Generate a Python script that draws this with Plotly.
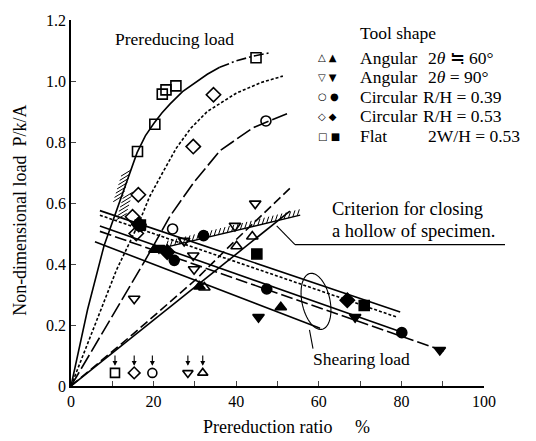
import numpy as np
import plotly.graph_objects as go

# ---------------- data ----------------
# Prereducing load (open markers)
a60_pre_x = [32.3, 40.1, 43.9]
a60_pre_y = [0.323, 0.458, 0.490]
a90_pre_x = [15.3, 27.4, 29.6, 29.8, 39.7, 44.6]
a90_pre_y = [0.286, 0.476, 0.428, 0.383, 0.525, 0.598]
c39_pre_x = [24.6, 47.2]
c39_pre_y = [0.515, 0.869]
c53_pre_x = [14.9, 15.8, 16.3, 29.6, 34.5]
c53_pre_y = [0.555, 0.500, 0.627, 0.785, 0.955]
flat_pre_x = [16.1, 20.3, 22.1, 23.0, 25.4, 44.8]
flat_pre_y = [0.769, 0.858, 0.957, 0.971, 0.984, 1.076]

# Shearing load (filled markers)
a60_sh_x = [20.2, 31.1, 50.8]
a60_sh_y = [0.447, 0.326, 0.258]
a90_sh_x = [21.3, 45.4, 68.8, 89.3]
a90_sh_y = [0.452, 0.226, 0.226, 0.118]
c39_sh_x = [16.9, 25.0, 32.1, 47.4, 80.1]
c39_sh_y = [0.525, 0.412, 0.493, 0.318, 0.175]
c53_sh_x = [16.4, 23.3, 66.9]
c53_sh_y = [0.530, 0.439, 0.281]
flat_sh_x = [16.8, 45.0, 71.0]
flat_sh_y = [0.528, 0.433, 0.264]

# Prereducing load curves
flat_curve_x = [0, 4, 8, 11, 14, 16, 18, 20, 22, 24, 27, 30, 33, 36]
flat_curve_y = [0, 0.25, 0.46, 0.575, 0.69, 0.765, 0.82, 0.86, 0.895, 0.925, 0.965, 0.995, 1.022, 1.045]
flat_tail_x = [36, 40, 44, 48.3]
flat_tail_y = [1.045, 1.066, 1.081, 1.093]
c53_curve_x = [0, 11, 16.3, 19, 22.2, 25.5, 29, 33, 40, 46, 51.3]
c53_curve_y = [0, 0.38, 0.53, 0.62, 0.70, 0.78, 0.845, 0.90, 0.96, 0.995, 1.016]
c39_curve_x = [0, 17.7, 24, 29.6, 36.1, 44.1, 52.9]
c39_curve_y = [0, 0.406, 0.557, 0.665, 0.772, 0.847, 0.896]
a90_curve_x = [0, 15, 30.3, 40, 53]
a90_curve_y = [0, 0.17, 0.35, 0.48, 0.648]
a60_curve_x = [0, 53]
a60_curve_y = [0, 0.573]

# Shearing load lines (start, end)
flat_shear_x = [7, 79.7]
flat_shear_y = [0.575, 0.243]
c53_shear_x = [7, 78.9]
c53_shear_y = [0.560, 0.226]
c39_shear_x = [7, 80]
c39_shear_y = [0.525, 0.177]
a90_shear_x = [7, 91]
a90_shear_y = [0.507, 0.111]
a60_shear_x = [5.8, 60.3]
a60_shear_y = [0.473, 0.189]

# Criterion for closing a hollow of specimen
crit1a_x = [12.7, 14.6]
crit1a_y = [0.625, 0.71]
crit1b_x = [11.0, 12.6]
crit1b_y = [0.545, 0.62]
crit2_x = [23.0, 55.5]
crit2_y = [0.455, 0.560]

# Closing points marked at the bottom
close_x = [10.65, 15.3, 19.7, 28.3, 31.9]
close_sym = ["square-open", "diamond-open", "circle-open", "triangle-down-open", "triangle-up-open"]
close_y = 0.043

x_ticks = [0, 10, 20, 30, 40, 50, 60, 70, 80, 90, 100]
x_ticktext = ["0", "", "20", "", "40", "", "60", "", "80", "", "100"]
y_ticks = [0, 0.2, 0.4, 0.6, 0.8, 1.0, 1.2]
y_ticktext = ["0", "0.2", "0.4", "0.6", "0.8", "1.0", "1.2"]

# ---------------- layout geometry ----------------
W, H = 536, 441
ML, MR, MT, MB = 71, 52, 14, 55
XR = (0, 100)
YR = (0, 1.2)
PW = W - ML - MR
PH = H - MT - MB
FONT = "Liberation Serif"
TS = 17.5


def d2p(x, y):
    return ML + (x - XR[0]) / (XR[1] - XR[0]) * PW, MT + (YR[1] - y) / (YR[1] - YR[0]) * PH


def p2d(px, py):
    return XR[0] + (px - ML) / PW * (XR[1] - XR[0]), YR[1] - (py - MT) / PH * (YR[1] - YR[0])


def pp(px, py):
    return (px - ML) / PW, (H - MB - py) / PH


def hatch(xs, ys, spacing, length, ang):
    pts = [d2p(x, y) for x, y in zip(xs, ys)]
    ox, oy = [], []
    a = np.deg2rad(ang)
    for (x0, y0), (x1, y1) in zip(pts[:-1], pts[1:]):
        seg = np.hypot(x1 - x0, y1 - y0)
        n = int(seg // spacing)
        for i in range(n + 1):
            t = i * spacing / seg
            px, py = x0 + t * (x1 - x0), y0 + t * (y1 - y0)
            ex, ey = px + length * np.cos(a), py - length * np.sin(a)
            dx0, dy0 = p2d(px, py)
            dx1, dy1 = p2d(ex, ey)
            ox += [dx0, dx1, None]
            oy += [dy0, dy1, None]
    return ox, oy


fig = go.Figure()

LW = 1.6


def line(x, y, dash, width=LW):
    fig.add_trace(go.Scatter(x=x, y=y, mode="lines", line=dict(color="black", width=width, dash=dash),
                             hoverinfo="skip", showlegend=False))


def pts(x, y, sym, size=10):
    fig.add_trace(go.Scatter(x=x, y=y, mode="markers",
                             marker=dict(symbol=sym, size=size, color="black",
                                         line=dict(color="black", width=1.6)),
                             showlegend=False, cliponaxis=False))


# curves
line(flat_curve_x, flat_curve_y, "solid")
line(flat_tail_x, flat_tail_y, "10px,3px,2px,3px")
line(c53_curve_x, c53_curve_y, "3px,2px")
line(c39_curve_x, c39_curve_y, "16px,4px")
line(a90_curve_x, a90_curve_y, "9px,4px")
line(a60_curve_x, a60_curve_y, "solid")

line(flat_shear_x, flat_shear_y, "solid")
line(c53_shear_x, c53_shear_y, "3px,2px")
line(c39_shear_x, c39_shear_y, "solid")
line(a90_shear_x, a90_shear_y, "12px,4px")
line(a60_shear_x, a60_shear_y, "solid")

# criterion lines with hatching
line(crit2_x, crit2_y, "solid", 1.3)
hx, hy = hatch(crit2_x, crit2_y, 4.5, 7, 72)
line(hx, hy, "solid", 1.0)
hx, hy = hatch(crit1a_x, crit1a_y, 4.5, 12, 212)
line(hx, hy, "solid", 1.0)
hx, hy = hatch(crit1b_x, crit1b_y, 4.5, 12, 32)
line(hx, hy, "solid", 1.0)

# markers
pts(a60_pre_x, a60_pre_y, "triangle-up-open")
pts(a90_pre_x, a90_pre_y, "triangle-down-open")
pts(c39_pre_x, c39_pre_y, "circle-open")
pts(c53_pre_x, c53_pre_y, "diamond-open", 11)
pts(flat_pre_x, flat_pre_y, "square-open")
pts(a60_sh_x, a60_sh_y, "triangle-up")
pts(a90_sh_x, a90_sh_y, "triangle-down")
pts(c39_sh_x, c39_sh_y, "circle")
pts(c53_sh_x, c53_sh_y, "diamond", 11)
pts(flat_sh_x, flat_sh_y, "square")

# closing markers at bottom with arrows
for cx, s in zip(close_x, close_sym):
    pts([cx], [close_y], s, 9)

annotations = []
for cx in close_x:
    annotations.append(dict(x=cx, y=0.066, ax=cx, ay=0.105, xref="x", yref="y", axref="x", ayref="y",
                            showarrow=True, arrowhead=2, arrowsize=0.9, arrowwidth=1.1, arrowcolor="black", text=""))

shapes = []
# ellipse around shearing load lines
ecx, ecy = 316, 300
rx, ry, rot = 14, 29, np.deg2rad(12)
t = np.linspace(0, 2 * np.pi, 60)
ex = rx * np.cos(t)
ey = ry * np.sin(t)
exr = ecx + ex * np.cos(rot) + ey * np.sin(rot)
eyr = ecy - ex * np.sin(rot) + ey * np.cos(rot)
path = "M " + " L ".join(f"{pp(a, b)[0]:.4f},{pp(a, b)[1]:.4f}" for a, b in zip(exr, eyr)) + " Z"
shapes.append(dict(type="path", path=path, xref="paper", yref="paper", line=dict(color="black", width=1.1)))
# leader to "Shearing load"
p0 = pp(309.5, 329)
p1 = pp(313, 348)
shapes.append(dict(type="line", x0=p0[0], y0=p0[1], x1=p1[0], y1=p1[1], xref="paper", yref="paper",
                   line=dict(color="black", width=1.1)))
# leader from criterion
for (a0, b0), (a1, b1) in [((276.7, 223.3), (295, 242.3)), ((295, 242.3), (505, 242.3))]:
    q0 = pp(a0, b0)
    q1 = pp(a1, b1)
    shapes.append(dict(type="line", x0=q0[0], y0=q0[1], x1=q1[0], y1=q1[1], xref="paper", yref="paper",
                       line=dict(color="black", width=1.1)))


def txt(px, py, s, size=TS, anchor="left", family=FONT):
    x, y = pp(px, py)
    annotations.append(dict(x=x, y=y, xref="paper", yref="paper", text=s, showarrow=False,
                            xanchor=anchor, yanchor="middle", font=dict(family=family, size=size, color="black")))


txt(113, 33, "Prereducing load")
txt(358, 27, "Tool shape")
rows = [52.5, 72, 92, 112, 132]
syms = ["△ ▲", "▽ ▼", "○ ●", "◇ ◆", "□ ■"]
lab1 = ["Angular", "Angular", "Circular", "Circular", "Flat"]
lab2 = ["2<i>θ</i> ≒ 60°", "2<i>θ</i> = 90°", "R/H = 0.39", "R/H = 0.53", "2W/H = 0.53"]
lab2x = [426, 426, 421, 421, 426]
for r, s, l1, l2, x2 in zip(rows, syms, lab1, lab2, lab2x):
    txt(316, r, s, 10, "left", "DejaVu Sans")
    txt(358, r, l1)
    txt(x2, r, l2)

txt(330, 206.5, "Criterion for closing", 18.5)
txt(330, 228, "a hollow of specimen.", 18.5)
txt(311, 359, "Shearing load")
txt(286, 428, "Prereduction ratio&nbsp;&nbsp;&nbsp;&nbsp;&nbsp;%", 18, "center")
yt = pp(20, 208)
annotations.append(dict(x=yt[0], y=yt[1], xref="paper", yref="paper", text="Non-dimensional load&nbsp;&nbsp;P/k/A",
                        showarrow=False, textangle=-90, xanchor="center", yanchor="middle",
                        font=dict(family=FONT, size=18, color="black")))

fig.update_layout(
    width=W, height=H,
    margin=dict(l=ML, r=MR, t=MT, b=MB),
    paper_bgcolor="white", plot_bgcolor="white",
    font=dict(family=FONT, size=16, color="black"),
    showlegend=False,
    shapes=shapes, annotations=annotations,
    xaxis=dict(range=list(XR), tickvals=x_ticks, ticktext=x_ticktext, ticks="inside", ticklen=5,
               tickwidth=1.2, showgrid=False, zeroline=False, showline=True, linecolor="black",
               linewidth=1.5, tickfont=dict(size=16)),
    yaxis=dict(range=list(YR), tickvals=y_ticks, ticktext=y_ticktext, ticks="inside", ticklen=5,
               tickwidth=1.2, showgrid=False, zeroline=False, showline=True, linecolor="black",
               linewidth=1.5, tickfont=dict(size=16)),
)

fig.write_html("out.html")
